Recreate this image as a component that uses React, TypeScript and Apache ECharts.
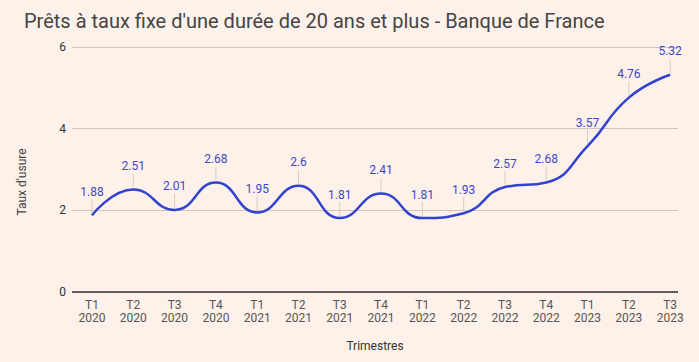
import React, { useEffect, useRef } from "react";
import * as echarts from "echarts";

const categories = ["T1\n2020","T2\n2020","T3\n2020","T4\n2020","T1\n2021","T2\n2021","T3\n2021","T4\n2021","T1\n2022","T2\n2022","T3\n2022","T4\n2022","T1\n2023","T2\n2023","T3\n2023"];
const values = [1.88, 2.51, 2.01, 2.68, 1.95, 2.6, 1.81, 2.41, 1.81, 1.93, 2.57, 2.68, 3.57, 4.76, 5.32];
const yTicks = [0, 2, 4, 6];

export default function App() {
  const ref = useRef<HTMLDivElement>(null);
  useEffect(() => {
    document.body.style.margin = "0";
    const chart = echarts.init(ref.current!, null, { renderer: "svg" });
    const pts = values.map((v, i) => [i, v]);
    chart.setOption({
      animation: false,
      backgroundColor: "#fdf1ea",
      textStyle: { fontFamily: "Roboto" },
      title: {
        text: "Prêts à taux fixe d'une durée de 20 ans et plus - Banque de France",
        left: 19,
        top: 6,
        textStyle: { fontSize: 20, fontWeight: "normal", color: "#454545", fontFamily: "Roboto" },
      },
      graphic: [
        {
          type: "text",
          x: 22,
          y: 182,
          rotation: Math.PI / 2,
          style: {
            text: "Taux d'usure",
            fontSize: 12,
            fontFamily: "Roboto",
            fill: "#444",
            align: "center",
            verticalAlign: "middle",
          },
        },
      ],
      grid: { left: 72, right: 21, top: 47, bottom: 70 },
      xAxis: {
        type: "value",
        min: -0.484,
        max: 14.19,
        name: "Trimestres",
        nameLocation: "middle",
        nameGap: 48,
        nameTextStyle: { fontSize: 12, color: "#333" },
        splitLine: { show: false },
        axisLine: { show: false },
        axisTick: { show: false },
        axisLabel: {
          customValues: categories.map((_, i) => i),
          formatter: (v: number) => categories[Math.round(v)] ?? "",
          color: "#555",
          fontSize: 12,
          lineHeight: 13,
          margin: 6,
        },
      },
      yAxis: {
        type: "value",
        min: yTicks[0],
        max: yTicks[yTicks.length - 1],
        interval: 2,
        axisLine: { show: false },
        axisTick: { show: false },
        axisLabel: { color: "#333", fontSize: 12, margin: 6 },
        splitLine: { lineStyle: { color: "#d3c5bd", width: 1 } },
      },
      series: [
        {
          type: "custom",
          z: 1,
          data: pts,
          renderItem: (params: any, api: any) => {
            const p = api.coord([api.value(0), api.value(1)]);
            return {
              type: "line",
              shape: { x1: p[0], y1: p[1] - 2, x2: p[0], y2: p[1] - 16 },
              style: { stroke: "#d9ccc4", lineWidth: 1 },
            };
          },
        },
        {
          type: "line",
          z: 3,
          data: pts,
          smooth: 0.5,
          symbol: "circle",
          symbolSize: 1,
          showSymbol: true,
          itemStyle: { color: "rgba(0,0,0,0)" },
          lineStyle: { color: "#3243cf", width: 2.5 },
          label: {
            show: true,
            position: "top",
            distance: 17,
            color: "#3a47c9",
            fontSize: 12,
          },
        },
        {
          type: "line",
          z: 2,
          data: [],
          markLine: {
            silent: true,
            symbol: "none",
            label: { show: false },
            lineStyle: { color: "#333", width: 1.5, type: "solid" },
            data: [{ yAxis: 0 }],
          },
        },
      ],
    });
    return () => chart.dispose();
  }, []);
  return <div ref={ref} style={{ width: 699, height: 362 }} />;
}
